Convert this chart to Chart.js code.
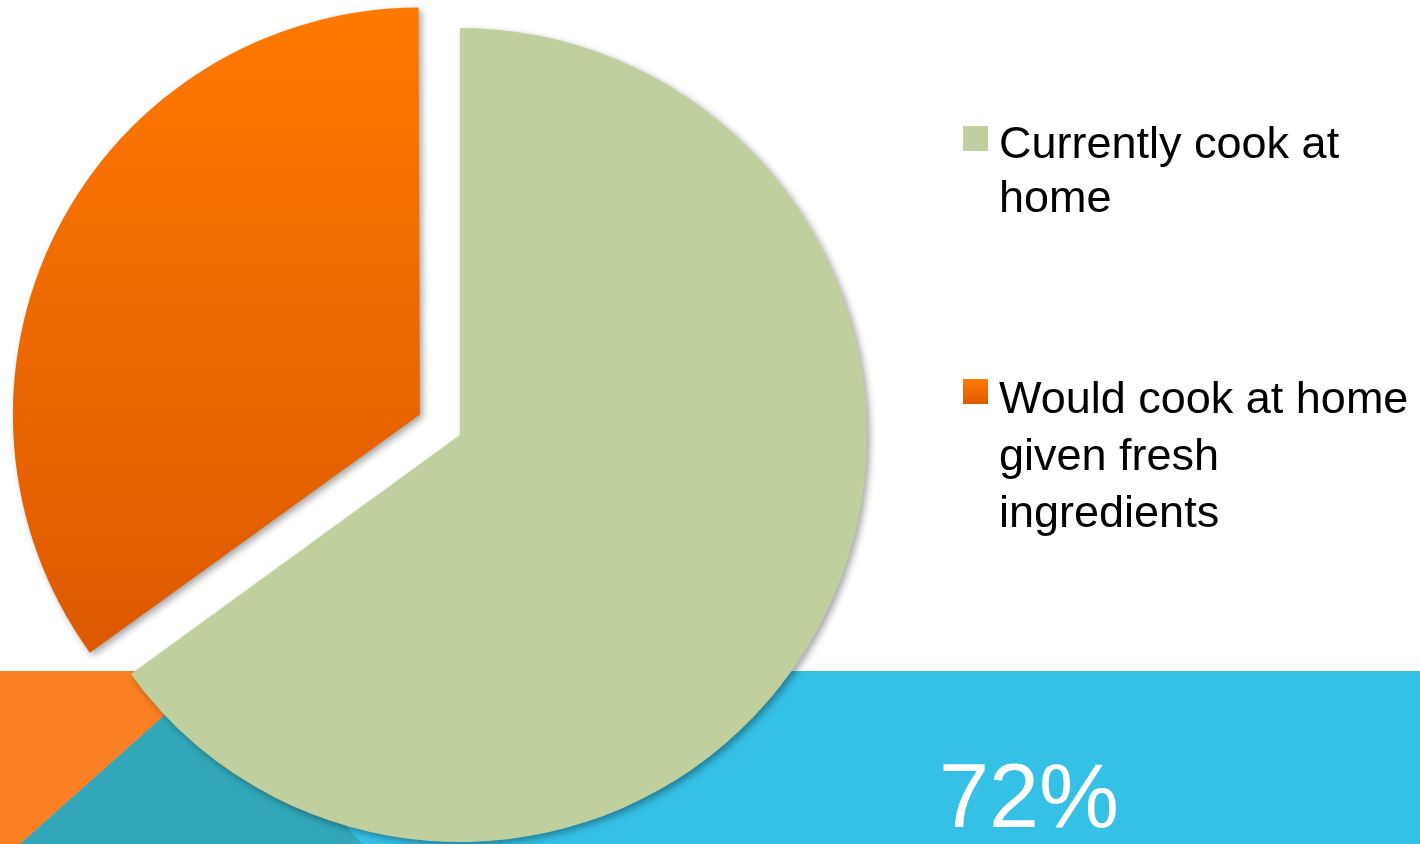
<!DOCTYPE html>
<html>
<head>
<meta charset="utf-8">
<script src="https://cdn.jsdelivr.net/npm/chart.js@4/dist/chart.umd.min.js"></script>
<style>
  html, body { margin: 0; padding: 0; background: #fff; }
  .slide { position: relative; width: 1420px; height: 844px; overflow: hidden; font-family: "Liberation Sans", Arial, sans-serif; }
  .band { position: absolute; left: 0; top: 671px; width: 1420px; height: 173px; background: #35C0E6; }
  .shape { position: absolute; left: 0; top: 0; width: 1420px; height: 844px; }
  .teal { background: #31A7B9; clip-path: polygon(20px 844px, 214px 671px, 362px 844px); }
  .orange { background: #FB8023; clip-path: polygon(0 671px, 214px 671px, 20px 844px, 0 844px); }
  #pie { position: absolute; left: 0; top: 0; }
  .big { position: absolute; left: 939px; top: 751px; font-size: 90px; line-height: 90px; color: #fff; }
  #legend { position: absolute; left: 963px; top: 116px; }
  .item { display: flex; align-items: flex-start; }
  .box { width: 25px; height: 25px; margin-top: 10px; margin-right: 11px; flex: none; }
  .txt { width: 421px; font-size: 45px; color: #000; }
</style>
</head>
<body>
<div class="slide">
  <div class="band"></div>
  <div class="shape teal"></div>
  <div class="shape orange"></div>
  <canvas id="pie" width="1420" height="844"></canvas>
  <div class="big">72%</div>
  <div id="legend"></div>
</div>
<script>
// -------------------- DATA --------------------
const categories = ["Currently cook at home", "Would cook at home given fresh ingredients"];
const shares = [65, 35];
// chart.js moves a slice by offset/4 px, so 180 -> ~45px
const sliceOffsets = [0, 180];
// top / bottom colour of each slice
const sliceColors = [["#BFD09E", "#BFD09E"], ["#FF7A00", "#DE5A00"]];

// legend spacing per item
const legendGaps = [0, 145];
const legendLines = [54, 57];

// fill slices with a vertical gradient
function sliceFill(context) {
  const pair = sliceColors[context.dataIndex];
  const area = context.chart.chartArea;
  if (!area) return pair[1];
  const cy = (area.top + area.bottom) / 2;
  const g = context.chart.ctx.createLinearGradient(0, cy - 430, 0, cy + 220);
  g.addColorStop(0, pair[0]);
  g.addColorStop(1, pair[1]);
  return g;
}

// soft drop shadow under the slices
const shadowPlugin = {
  id: "shadow",
  beforeDatasetsDraw(chart) {
    const c = chart.ctx;
    c.save();
    c.shadowColor = "rgba(0,0,0,0.35)";
    c.shadowBlur = 7;
    c.shadowOffsetX = 3;
    c.shadowOffsetY = 3;
  },
  afterDatasetsDraw(chart) {
    chart.ctx.restore();
  },
};

// chart.js also grows an offset slice a bit; keep all slices the same size
let saved = [];
const keepRadius = {
  id: "keepRadius",
  beforeDatasetDraw(chart, args) {
    saved = [];
    args.meta.data.forEach((arc) => {
      const off = (arc.options.offset || 0) / 4;
      const fix = 1 - Math.sin(Math.min(Math.PI, arc.circumference || 0));
      saved.push(arc.outerRadius);
      arc.outerRadius -= off * fix;
    });
  },
  afterDatasetDraw(chart, args) {
    args.meta.data.forEach((arc, i) => (arc.outerRadius = saved[i]));
  },
};

// html legend so long labels can wrap
const htmlLegend = {
  id: "htmlLegend",
  afterUpdate(chart) {
    const box = document.getElementById("legend");
    box.innerHTML = "";
    const items = chart.options.plugins.legend.labels.generateLabels(chart);
    items.forEach((item, i) => {
      const row = document.createElement("div");
      row.className = "item";
      row.style.marginTop = legendGaps[i] + "px";
      const sw = document.createElement("span");
      sw.className = "box";
      const pair = sliceColors[item.index];
      sw.style.background = `linear-gradient(${pair[0]}, ${pair[1]})`;
      const t = document.createElement("span");
      t.className = "txt";
      t.style.lineHeight = legendLines[i] + "px";
      t.textContent = item.text;
      row.appendChild(sw);
      row.appendChild(t);
      box.appendChild(row);
    });
  },
};

const ctx = document.getElementById("pie");
const pieChart = new Chart(ctx, {
  type: "pie",
  data: {
    labels: categories,
    datasets: [
      {
        data: shares,
        backgroundColor: sliceFill,
        borderWidth: 0,
        offset: sliceOffsets,
        clip: false,
      },
    ],
  },
  options: {
    responsive: false,
    animation: false,
    radius: 407,
    layout: { padding: { left: 0, right: 500, top: 26, bottom: 0 } },
    plugins: {
      legend: { display: false },
      tooltip: { enabled: false },
    },
  },
  plugins: [shadowPlugin, keepRadius, htmlLegend],
});
</script>
</body>
</html>
